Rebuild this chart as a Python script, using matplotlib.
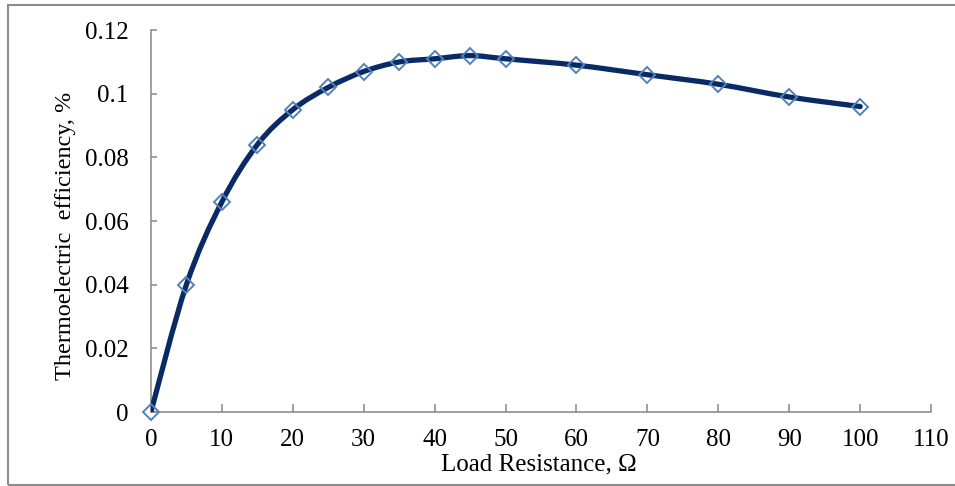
import matplotlib
matplotlib.use('Agg')
import matplotlib.pyplot as plt
from matplotlib.path import Path
from matplotlib.patches import PathPatch, Rectangle

# load resistance (ohm) and efficiency (%)
resistance = [0, 5, 10, 15, 20, 25, 30, 35, 40, 45, 50, 60, 70, 80, 90, 100]
efficiency = [0, 0.040, 0.066, 0.084, 0.095, 0.102, 0.107, 0.110, 0.111,
              0.112, 0.111, 0.109, 0.106, 0.103, 0.099, 0.096]
x_ticks = [0, 10, 20, 30, 40, 50, 60, 70, 80, 90, 100, 110]
y_ticks = [0, 0.02, 0.04, 0.06, 0.08, 0.1, 0.12]
y_labels = ['0', '0.02', '0.04', '0.06', '0.08', '0.1', '0.12']

plt.rcParams['font.family'] = ['Liberation Serif', 'DejaVu Serif']

line_col = '#0a2a66'
mark_col = '#4f81bd'
axis_col = '#868686'


## smoothed curve like Excel's "smoothed line" (bezier through the points)
def smoothPath(xs, ys):
    pts = list(zip(xs, ys))
    verts = [pts[0]]
    codes = [Path.MOVETO]
    n = len(pts)
    for i in range(n - 1):
        p0 = pts[i - 1] if i > 0 else pts[i]
        p1 = pts[i]
        p2 = pts[i + 1]
        p3 = pts[i + 2] if i + 2 < n else pts[i + 1]
        c1 = (p1[0] + (p2[0] - p0[0]) / 6, p1[1] + (p2[1] - p0[1]) / 6)
        c2 = (p2[0] - (p3[0] - p1[0]) / 6, p2[1] - (p3[1] - p1[1]) / 6)
        verts += [c1, c2, p2]
        codes += [Path.CURVE4] * 3
    return Path(verts, codes)


fig = plt.figure(figsize=(9.55, 4.86), dpi=100)
ax = fig.add_axes([0.158, 0.152, 0.817, 0.786])

# outer chart border (right side runs off the picture)
fig.patches.append(Rectangle((8 / 955, 1.5 / 486), 960 / 955, 479.5 / 486,
                             transform=fig.transFigure, fill=False,
                             edgecolor='#8c8c8c', linewidth=1.5))

ax.add_patch(PathPatch(smoothPath(resistance, efficiency), fill=False,
                       edgecolor=line_col, linewidth=3.8, zorder=3,
                       capstyle='round', joinstyle='round'))
ax.plot(resistance, efficiency, linestyle='none', marker='D', markersize=8,
        markerfacecolor='none', markeredgecolor=mark_col,
        markeredgewidth=1.4, zorder=4, clip_on=False)

ax.set_xlim(0, 110)
ax.set_ylim(0, 0.12)
ax.set_xticks(x_ticks)
ax.set_yticks(y_ticks)
ax.set_yticklabels(y_labels)

for s in ['top', 'right']:
    ax.spines[s].set_visible(False)
for s in ['left', 'bottom']:
    ax.spines[s].set_color(axis_col)
    ax.spines[s].set_linewidth(1.1)

ax.tick_params(axis='both', direction='in', width=1.1,
               color=axis_col, labelsize=18, labelcolor='black')
ax.tick_params(axis='x', pad=12.5, length=6)
ax.tick_params(axis='y', pad=16, length=4)

ax.set_xlabel('Load Resistance, Ω', fontsize=18)
ax.set_ylabel('Thermoelectric  efficiency, %', fontsize=17.5)
ax.xaxis.set_label_coords(0.497, -0.108)
ax.yaxis.set_label_coords(-0.096, 0.461)

plt.savefig('out.png', dpi=100)
